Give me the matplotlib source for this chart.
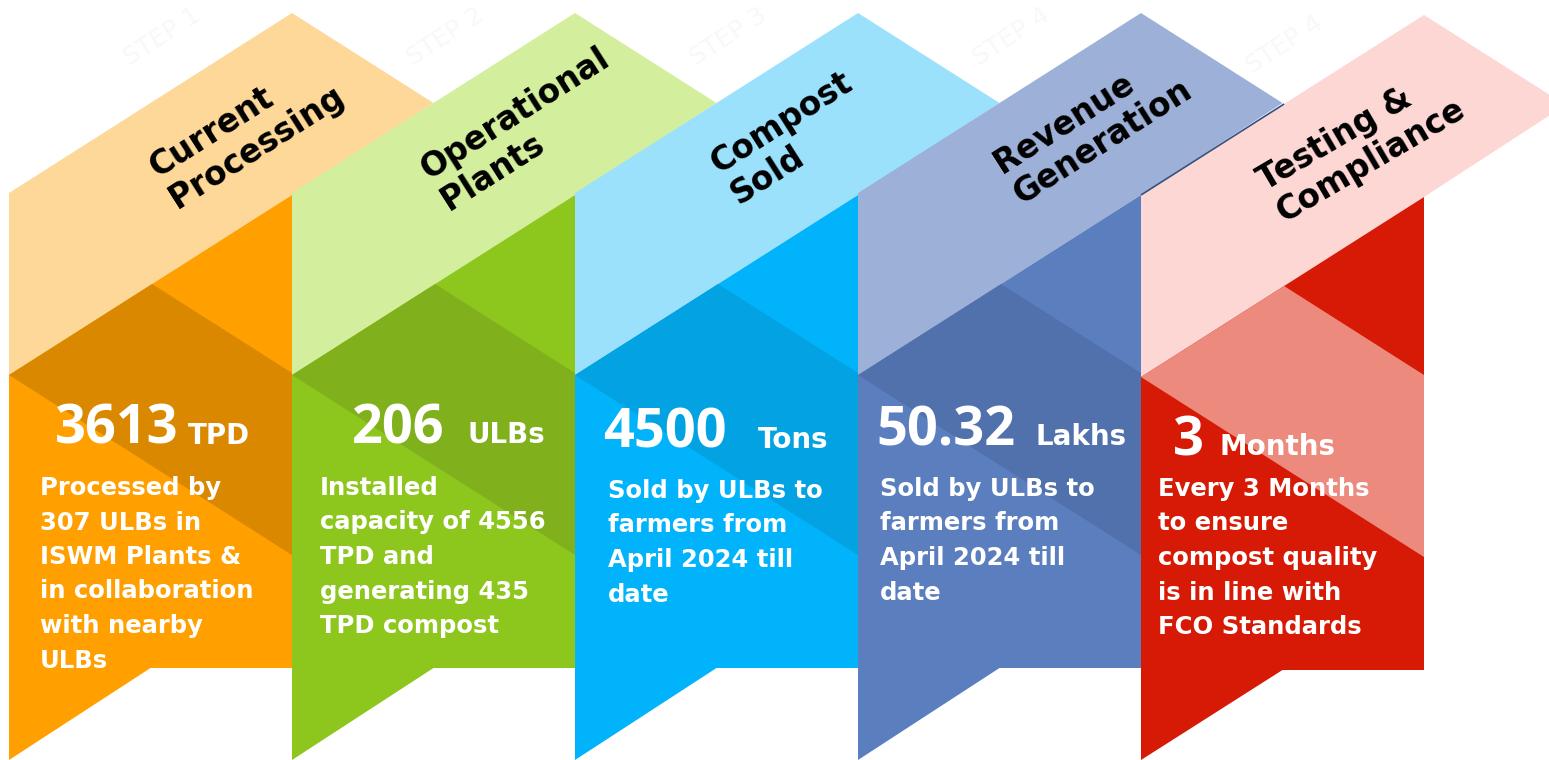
import numpy as np
import matplotlib
matplotlib.use("Agg")
import matplotlib.pyplot as plt
from matplotlib.patches import Polygon

# ---- data ----
headers = [
    ("Current", "Processing"),
    ("Operational", "Plants"),
    ("Compost", "Sold"),
    ("Revenue", "Generation"),
    ("Testing &", "Compliance"),
]
values = ["3613", "206", "4500", "50.32", "3"]
units = ["TPD", "ULBs", "Tons", "Lakhs", "Months"]
descriptions = [
    ["Processed by", "307 ULBs in", "ISWM Plants &", "in collaboration", "with nearby", "ULBs"],
    ["Installed", "capacity of 4556", "TPD and", "generating 435", "TPD compost"],
    ["Sold by ULBs to", "farmers from", "April 2024 till", "date"],
    ["Sold by ULBs to", "farmers from", "April 2024 till", "date"],
    ["Every 3 Months", "to ensure", "compost quality", "is in line with", "FCO Standards"],
]
steps = ["STEP 1", "STEP 2", "STEP 3", "STEP 4", "STEP 4"]

# light band, body, shade
COLORS = [
    ("#FDD899", "#FF9F00", "#D98800"),
    ("#D3EF9E", "#8DC71E", "#80B11D"),
    ("#9CE1FC", "#00B3FA", "#03A3E3"),
    ("#9DB1D8", "#5B7EBF", "#5171AD"),
    ("#FDD7D4", "#D61A05", "#ED8A7E"),
]

# ---- layout (pixels, y down) ----
W_PX, H_PX = 1549, 760
X_START = 9
COL_W = 283
PEAK_Y = 13
BAND_TOP = 193
BAND_BOT = 375
NOTCH_Y = 668
SLOPE = (BAND_TOP - PEAK_Y) / COL_W
ANGLE = np.degrees(np.arctan(SLOPE))

HEAD_ANCHOR = [(157, 178), (429, 180), (719, 174), (1002, 174), (1265, 191)]
HEAD_GAP = 37
STEP_POS = [(130, 66), (413, 66), (696, 66), (979, 66), (1252, 74)]
NUM_POS = [(55, 444), (352, 443), (603, 448), (876, 445), (1173, 455)]
UNIT_X = [188, 468, 758, 1036, 1220]
DESC_POS = [(40, 495), (320, 495), (608, 498), (880, 496), (1158, 496)]
DESC_GAP = 34.5

FONT = "DejaVu Sans"
NUM_FONT = "Open Sans"

fig = plt.figure(figsize=(W_PX / 100, H_PX / 100), dpi=100)
ax = fig.add_axes([0, 0, 1, 1])
ax.set_xlim(0, W_PX)
ax.set_ylim(H_PX, 0)
ax.axis("off")


def column(i):
    dy = 2 if i == 4 else 0
    x0 = X_START + COL_W * i
    x1 = x0 + COL_W
    h = (BAND_TOP - PEAK_Y) / (2 * SLOPE)
    light, body, shade = COLORS[i]
    band = [(x0, BAND_TOP + dy), (x1, PEAK_Y + dy), (x1 + h, PEAK_Y + dy + SLOPE * h),
            (x1, BAND_BOT - COL_W * SLOPE + dy), (x0, BAND_BOT + dy)]
    ax.add_patch(Polygon(band, closed=True, fc=light, ec="none", zorder=2 + 3 * i))
    bod = [(x0, BAND_BOT + dy), (x1, BAND_BOT - COL_W * SLOPE + dy), (x1, NOTCH_Y + dy),
           (x0 + h, NOTCH_Y + dy), (x0, H_PX)]
    ax.add_patch(Polygon(bod, closed=True, fc=body, ec="none", zorder=3 + 3 * i))
    t = (BAND_BOT - BAND_TOP) / (2 * SLOPE)
    sh = [(x0, BAND_BOT + dy), (x0 + t, BAND_BOT - SLOPE * t + dy),
          (x1, BAND_TOP + SLOPE * COL_W + dy), (x1, BAND_BOT + SLOPE * COL_W + dy)]
    ax.add_patch(Polygon(sh, closed=True, fc=shade, ec="none", zorder=4 + 3 * i))


for i in range(5):
    column(i)
    # faint watermark
    sx, sy = STEP_POS[i]
    ax.text(sx, sy, steps[i], rotation=33, rotation_mode="anchor",
            fontsize=18, color="#f8f8f8", family=FONT, ha="left", va="baseline", zorder=1)

    ang = ANGLE - (2 if i == 4 else 0)
    a = np.radians(ang)
    hx, hy = HEAD_ANCHOR[i]
    for k, line in enumerate(headers[i]):
        ax.text(hx + k * HEAD_GAP * np.sin(a), hy + k * HEAD_GAP * np.cos(a), line,
                rotation=ang, rotation_mode="anchor", ha="left", va="baseline",
                fontsize=23.5, fontweight="bold", family=FONT, color="black", zorder=30)

    nx, ny = NUM_POS[i]
    ax.text(nx, ny, values[i], fontsize=39, fontweight="bold", family=NUM_FONT,
            color="white", ha="left", va="baseline", zorder=30)
    ax.text(UNIT_X[i], ny, units[i], fontsize=20, fontweight="bold", family=FONT,
            color="white", ha="left", va="baseline", zorder=30)

    dx, dy0 = DESC_POS[i]
    for k, line in enumerate(descriptions[i]):
        ax.text(dx, dy0 + k * DESC_GAP, line, fontsize=17.5, fontweight="bold", family=FONT,
                color="white", ha="left", va="baseline", zorder=30)

# thin dark seam where the last band meets the previous one
x4 = X_START + COL_W * 4
t_seam = (BAND_TOP + 2 - PEAK_Y) / (2 * SLOPE)
ax.plot([x4, x4 + t_seam], [BAND_TOP + 2, BAND_TOP + 2 - SLOPE * t_seam],
        color="#34507f", lw=1.2, zorder=20, solid_capstyle="butt")

fig.savefig("out.png", dpi=100, facecolor="white")
